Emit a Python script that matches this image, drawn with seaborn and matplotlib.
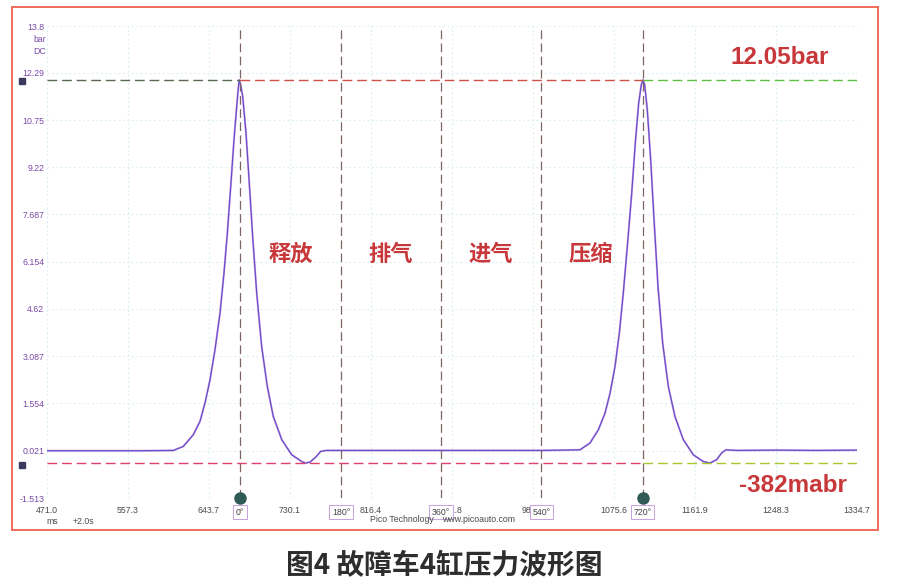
import matplotlib
matplotlib.use("Agg")
import matplotlib.pyplot as plt
import matplotlib.transforms as mtransforms
from matplotlib.patches import Rectangle
import pandas as pd
import seaborn as sns

# ---------------- data ----------------
time_ms = [471.0, 520.0, 570.0, 605.7, 616.3, 627.0, 634.1, 639.5, 644.8, 650.1,
           655.5, 659.7, 663.3, 666.9, 670.4, 673.3, 675.0, 676.0, 677.5, 679.7,
           683.2, 686.7, 690.3, 694.6, 699.9, 705.9, 712.3, 721.3, 731.9, 742.6,
           746.5, 751.4, 757.8, 762.8, 769.2, 800.0, 850.0, 900.0, 950.0, 1000.0,
           1039.3, 1050.0, 1058.9, 1066.0, 1071.4, 1076.7, 1081.3, 1085.5, 1089.8, 1094.5,
           1098.3, 1101.9, 1104.7, 1106.5, 1108.3, 1111.1, 1114.7, 1118.3, 1122.5, 1127.5,
           1133.5, 1140.6, 1149.5, 1160.1, 1170.8, 1177.9, 1185.1, 1190.4, 1195.0, 1206.4,
           1250.0, 1290.0, 1334.7]
pressure_bar = [0.02, 0.02, 0.02, 0.03, 0.16, 0.54, 0.97, 1.57, 2.32, 3.29,
                4.49, 5.78, 7.08, 8.59, 10.11, 11.19, 11.79, 12.05, 11.89, 11.51,
                10.33, 8.70, 6.97, 5.14, 3.40, 2.11, 1.13, 0.38, -0.11, -0.33,
                -0.38, -0.35, -0.18, 0.00, 0.03, 0.03, 0.03, 0.03, 0.03, 0.03,
                0.05, 0.27, 0.70, 1.24, 1.89, 2.76, 3.84, 5.14, 6.65, 8.38,
                10.00, 11.30, 11.89, 12.05, 11.89, 11.08, 9.46, 7.51, 5.35, 3.51,
                2.11, 1.13, 0.38, -0.11, -0.33, -0.38, -0.27, -0.05, 0.05, 0.03,
                0.04, 0.03, 0.04]

x_ticks = [471.0, 557.3, 643.7, 730.1, 816.4, 902.8, 989.1, 1075.6, 1161.9, 1248.3, 1334.7]
x_tick_labels = ["471.0", "557.3", "643.7", "730.1", "816.4", "902.8", "989.1",
                 "1075.6", "1161.9", "1248.3", "1334.7"]
y_ticks = [13.8, 12.29, 10.75, 9.22, 7.687, 6.154, 4.62, 3.087, 1.554, 0.021, -1.513]
y_tick_labels = ["13.8", "12.29", "10.75", "9.22", "7.687", "6.154", "4.62",
                 "3.087", "1.554", "0.021", "-1.513"]

cursor_ms = [676.8, 784.5, 891.2, 998.0, 1106.3]
cursor_labels = ["0°", "180°", "360°", "540°", "720°"]
rule_max = 12.05
rule_min = -0.382
stroke_names = ["释放", "排气", "进气", "压缩"]
stroke_centers_ms = [730.5, 837.5, 944.5, 1051.0]
max_label = "12.05bar"
min_label = "-382mabr"
caption = "图4 故障车4缸压力波形图"

df = pd.DataFrame({"time": time_ms, "pressure": pressure_bar})

# ---------------- style ----------------
sns.set_theme(style="white")
plt.rcParams["font.family"] = ["Liberation Sans", "Noto Sans CJK SC", "DejaVu Sans"]

W, H = 898, 586
fig = plt.figure(figsize=(W / 100, H / 100), dpi=100)
fig.patch.set_facecolor("white")
ax = fig.add_axes([47 / W, 1 - 498 / H, 810 / W, 472 / H])
ax.set_facecolor("white")

def fx(px):
    return px / W

def fy(py):
    return 1 - py / H

ax.set_xlim(471.0, 1334.7)
ax.set_ylim(-1.513, 13.8)
ax.set_xticks(x_ticks)
ax.set_xticklabels(x_tick_labels)
ax.set_yticks(y_ticks)
ax.set_yticklabels(y_tick_labels)
ax.grid(True, color="#d6eef4", linestyle=(0, (1.5, 2.5)), linewidth=0.8)
ax.tick_params(axis="x", length=0, pad=6, labelsize=6.3, labelcolor="#4a4a4a")
ax.tick_params(axis="y", length=0, pad=2, labelsize=6.3, labelcolor="#7a4aa8")
for s in ax.spines.values():
    s.set_visible(False)

# waveform (two layers to imitate the scan colour fringe)
sns.lineplot(data=df, x="time", y="pressure", ax=ax, color="#d040d0", linewidth=1.5,
             alpha=0.45, sort=False, estimator=None, legend=False)
sns.lineplot(data=df, x="time", y="pressure", ax=ax, color="#5e52c8", linewidth=0.9,
             sort=False, estimator=None, legend=False)
ax.set_xlabel("")
ax.set_ylabel("")

dash = (0, (7, 3.5))
for t in cursor_ms:
    ax.axvline(t, color="#7f6464", linestyle=dash, linewidth=0.9, zorder=3)
ax.hlines(rule_max, 471.0, cursor_ms[0], colors="#5a6a50", linestyles=dash, linewidth=1.0, zorder=3)
ax.hlines(rule_max, cursor_ms[0], cursor_ms[4], colors="#d0504a", linestyles=dash, linewidth=1.0, zorder=3)
ax.hlines(rule_max, cursor_ms[4], 1334.7, colors="#5cc040", linestyles=dash, linewidth=1.0, zorder=3)
ax.hlines(rule_min, 471.0, cursor_ms[4], colors="#e0406a", linestyles=dash, linewidth=1.0, zorder=3)
ax.hlines(rule_min, cursor_ms[4], 1334.7, colors="#a8c830", linestyles=dash, linewidth=1.0, zorder=3)

trans_b = mtransforms.blended_transform_factory(ax.transData, ax.transAxes)
for t in (cursor_ms[0], cursor_ms[4]):
    ax.plot([t], [0.0], marker="o", markersize=8, color="#2f5a55", transform=trans_b,
            clip_on=False, zorder=6)

for t, lab in zip(cursor_ms, cursor_labels):
    ax.text(t, -0.03, lab, transform=trans_b, ha="center", va="center", fontsize=6.3,
            color="#444444", zorder=7,
            bbox=dict(boxstyle="square,pad=0.3", facecolor="white", edgecolor="#c9a0e0",
                      linewidth=0.7))

trans_a = mtransforms.blended_transform_factory(ax.transAxes, ax.transData)
for v in (rule_max, rule_min):
    ax.plot([-0.031], [v - 0.05], marker="s", markersize=5, color="#3a3a5e",
            transform=trans_a, clip_on=False, zorder=6)

for t, name in zip(stroke_centers_ms, stroke_names):
    ax.text(t, 6.4, name, ha="center", va="center", fontsize=16, fontweight="bold",
            color="#c8383a", family=["Noto Sans CJK SC"], zorder=5)

fig.text(fx(780), fy(57), max_label, ha="center", va="center", fontsize=17.5,
         fontweight="bold", color="#c8383a")
fig.text(fx(793), fy(486), min_label, ha="center", va="center", fontsize=17.5,
         fontweight="bold", color="#c8383a")

fig.text(fx(46), fy(40), "bar", ha="right", va="center", fontsize=6.3, color="#7a4aa8")
fig.text(fx(46), fy(52), "DC", ha="right", va="center", fontsize=6.3, color="#7a4aa8")
fig.text(fx(52), fy(521), "ms", ha="center", va="center", fontsize=6.3, color="#4a4a4a")
fig.text(fx(83), fy(521), "+2.0s", ha="center", va="center", fontsize=6.3, color="#4a4a4a")
fig.text(fx(402), fy(520), "Pico Technology", ha="center", va="center", fontsize=6.3, color="#4a4a4a")
fig.text(fx(479), fy(520), "www.picoauto.com", ha="center", va="center", fontsize=6.3, color="#4a4a4a")

fig.patches.append(Rectangle((fx(12), fy(530)), (878 - 12) / W, (530 - 7) / H,
                             transform=fig.transFigure, fill=False, edgecolor="#f06a5a",
                             linewidth=1.4))

fig.text(fx(444), fy(566), caption, ha="center", va="center", fontsize=20,
         fontweight="bold", color="#2e2e2e", family=["Noto Sans CJK SC"])

fig.savefig("out.png", dpi=100, facecolor="white")
